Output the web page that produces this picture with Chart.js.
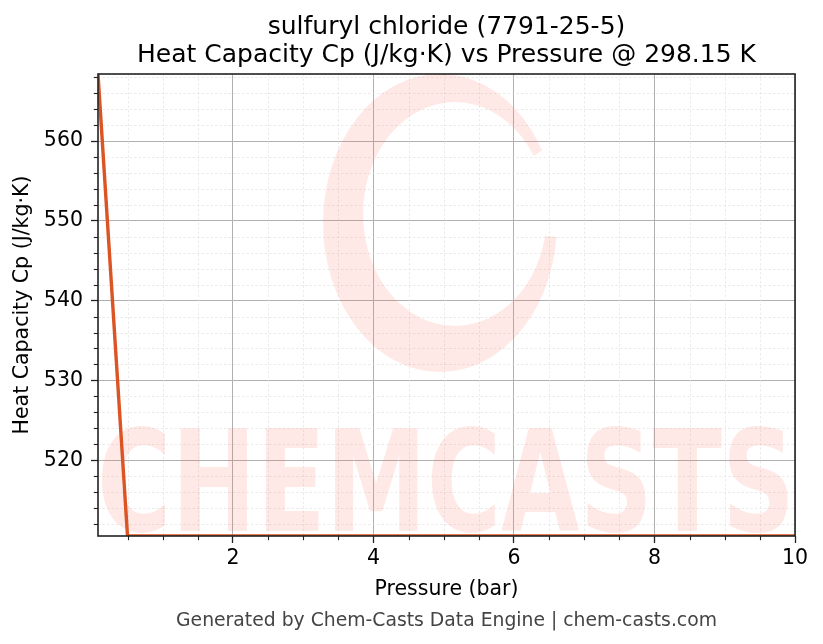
<!DOCTYPE html>
<html>
<head>
<meta charset="utf-8">
<script src="https://cdn.jsdelivr.net/npm/chart.js@4.4.0/dist/chart.umd.min.js"></script>
<style>
html,body{margin:0;padding:0;background:#fff;}
#wrap{width:823px;height:644px;}
</style>
</head>
<body>
<div id="wrap"><canvas id="c" width="823" height="644"></canvas></div>
<script>
// ---- data ----
const titleLines = ["sulfuryl chloride (7791-25-5)", "Heat Capacity Cp (J/kg\u00B7K) vs Pressure @ 298.15 K"];
const xLabel = "Pressure (bar)";
const yLabel = "Heat Capacity Cp (J/kg\u00B7K)";
const footerText = "Generated by Chem-Casts Data Engine | chem-casts.com";
const pressureBar = [0.08, 0.5, 1, 2, 3, 4, 5, 6, 7, 8, 9, 10];
const cpValues = [568.4, 510.5, 510.5, 510.5, 510.5, 510.5, 510.5, 510.5, 510.5, 510.5, 510.5, 510.5];
const xMajorTicks = [2, 4, 6, 8, 10];
const yMajorTicks = [520, 530, 540, 550, 560];
const xMinorStep = 0.5;
const yMinorStep = 2;

const FONT = "'DejaVu Sans', sans-serif";
const lineColor = '#dc5423';

const points = pressureBar.map((p, i) => ({x: p, y: cpValues[i]}));
const xMin = Math.min(...pressureBar), xMax = Math.max(...pressureBar);
const yMin = Math.min(...cpValues), yMax = Math.max(...cpValues);

const decor = {
  id: 'decor',
  beforeDatasetsDraw(chart) {
    const {ctx, chartArea: a, scales} = chart;
    const xs = scales.x, ys = scales.y;
    ctx.save();
    // minor grid
    ctx.strokeStyle = '#e2e2e2';
    ctx.lineWidth = 0.7;
    ctx.setLineDash([2.5, 2]);
    for (let v = Math.ceil(xMin / xMinorStep) * xMinorStep; v <= xMax + 1e-9; v += xMinorStep) {
      if (xMajorTicks.some(t => Math.abs(t - v) < 1e-9)) continue;
      const px = Math.round(xs.getPixelForValue(v)) + 0.5;
      ctx.beginPath(); ctx.moveTo(px, a.top); ctx.lineTo(px, a.bottom); ctx.stroke();
    }
    for (let v = Math.ceil(yMin / yMinorStep) * yMinorStep; v <= yMax + 1e-9; v += yMinorStep) {
      if (yMajorTicks.some(t => Math.abs(t - v) < 1e-9)) continue;
      const py = Math.round(ys.getPixelForValue(v)) + 0.5;
      ctx.beginPath(); ctx.moveTo(a.left, py); ctx.lineTo(a.right, py); ctx.stroke();
    }
    ctx.setLineDash([]);
    // watermark
    ctx.beginPath(); ctx.rect(a.left, a.top, a.right - a.left, a.bottom - a.top); ctx.clip();
    ctx.fillStyle = 'rgba(246,110,90,0.15)';
    // ring
    ctx.save();
    ctx.beginPath();
    ctx.rect(0, 0, chart.width, chart.height);
    ctx.moveTo(440, 223);
    ctx.lineTo(440 + 200 * Math.cos(-0.62), 223 + 200 * Math.sin(-0.62));
    ctx.lineTo(440 + 200 * Math.cos(0.12), 223 + 200 * Math.sin(0.12));
    ctx.closePath();
    ctx.clip('evenodd');
    ctx.beginPath();
    ctx.ellipse(440, 223, 117, 149, 0, 0, Math.PI * 2);
    ctx.ellipse(455, 214, 92, 112, 0, 0, Math.PI * 2);
    ctx.fill('evenodd');
    ctx.restore();
    // text
    ctx.font = "bold 140px 'DejaVu Sans', sans-serif";
    ctx.textBaseline = 'alphabetic';
    ctx.textAlign = 'left';
    const w = ctx.measureText('CHEMCASTS').width;
    ctx.save();
    ctx.translate(97, 531);
    ctx.scale(698 / w, 1);
    ctx.fillText('CHEMCASTS', 0, 0);
    ctx.restore();
    ctx.restore();
  },
  afterDatasetsDraw(chart) {
    const {ctx, chartArea: a, scales} = chart;
    const xs = scales.x, ys = scales.y;
    ctx.save();
    // minor tick marks
    ctx.strokeStyle = '#222';
    ctx.lineWidth = 1.1;
    for (let v = Math.ceil(xMin / xMinorStep) * xMinorStep; v <= xMax + 1e-9; v += xMinorStep) {
      if (xMajorTicks.some(t => Math.abs(t - v) < 1e-9)) continue;
      const px = Math.round(xs.getPixelForValue(v)) + 0.5;
      ctx.beginPath(); ctx.moveTo(px, a.bottom); ctx.lineTo(px, a.bottom + 4.2); ctx.stroke();
    }
    for (let v = Math.ceil(yMin / yMinorStep) * yMinorStep; v <= yMax + 1e-9; v += yMinorStep) {
      if (yMajorTicks.some(t => Math.abs(t - v) < 1e-9)) continue;
      const py = Math.round(ys.getPixelForValue(v)) + 0.5;
      ctx.beginPath(); ctx.moveTo(a.left, py); ctx.lineTo(a.left - 4.2, py); ctx.stroke();
    }
    // frame
    ctx.strokeStyle = '#222';
    ctx.lineWidth = 1.6;
    ctx.strokeRect(a.left, a.top, a.right - a.left, a.bottom - a.top);
    ctx.restore();
  },
  afterDraw(chart) {
    const {ctx, chartArea: a} = chart;
    const cx = (a.left + a.right) / 2;
    ctx.save();
    ctx.textAlign = 'center';
    ctx.textBaseline = 'alphabetic';
    ctx.fillStyle = '#000';
    ctx.font = '25px ' + FONT;
    ctx.fillText(titleLines[0], cx, 34);
    ctx.fillText(titleLines[1], cx, 62);
    ctx.fillStyle = '#444';
    ctx.font = '18.8px ' + FONT;
    ctx.fillText(footerText, cx, 626);
    ctx.restore();
  }
};

new Chart(document.getElementById('c'), {
  type: 'scatter',
  data: {
    datasets: [{
      data: points,
      showLine: true,
      borderColor: lineColor,
      backgroundColor: lineColor,
      borderWidth: 3.4,
      pointRadius: 0,
      tension: 0,
      clip: 0
    }]
  },
  options: {
    responsive: false,
    animation: false,
    devicePixelRatio: 1,
    layout: {padding: {left: 0, right: 28, top: 74, bottom: 28}},
    plugins: {legend: {display: false}, tooltip: {enabled: false}, title: {display: false}},
    scales: {
      x: {
        type: 'linear',
        min: xMin, max: xMax,
        afterBuildTicks: s => { s.ticks = xMajorTicks.map(v => ({value: v})); },
        afterFit: s => { s.height = 80; s.paddingLeft = 0; s.paddingRight = 0; },
        ticks: {
          autoSkip: false, maxRotation: 0, padding: 3,
          color: '#000', font: {family: FONT, size: 20.5},
          callback: v => String(v)
        },
        grid: {color: '#b0b0b0', lineWidth: 1, drawTicks: true, tickLength: 7, tickColor: '#222', tickWidth: 1.3},
        border: {display: false},
        title: {display: true, text: xLabel, color: '#000', font: {family: FONT, size: 20.5}, padding: {top: 0, bottom: 14}}
      },
      y: {
        type: 'linear',
        min: yMin, max: yMax,
        afterBuildTicks: s => { s.ticks = yMajorTicks.map(v => ({value: v})); },
        afterFit: s => { s.width = 98; s.paddingTop = 0; s.paddingBottom = 0; },
        ticks: {
          autoSkip: false, padding: 8,
          color: '#000', font: {family: FONT, size: 20.5},
          callback: v => String(v)
        },
        grid: {color: '#b0b0b0', lineWidth: 1, drawTicks: true, tickLength: 7, tickColor: '#222', tickWidth: 1.3},
        border: {display: false},
        title: {display: true, text: yLabel, color: '#000', font: {family: FONT, size: 20.5}, padding: {top: 10, bottom: 0}}
      }
    }
  },
  plugins: [decor]
});
</script>
</body>
</html>
